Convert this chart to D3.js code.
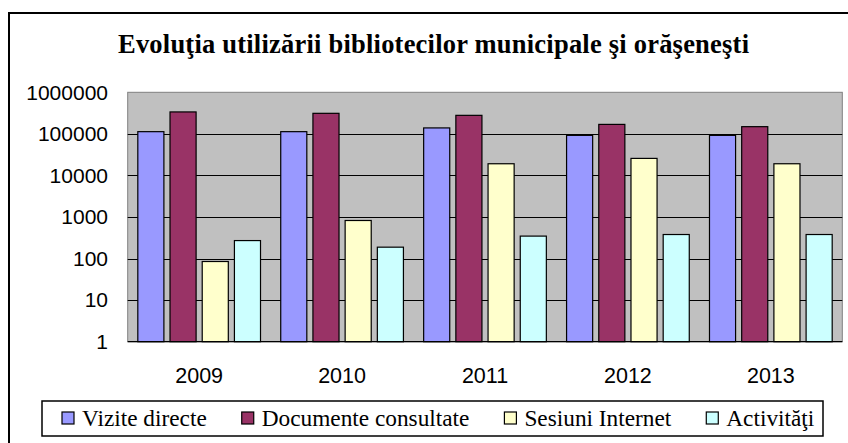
<!DOCTYPE html>
<html>
<head>
<meta charset="utf-8">
<script src="https://cdn.jsdelivr.net/npm/d3@7"></script>
<style>
  html, body { margin: 0; padding: 0; background: #fff; }
  svg { display: block; }
</style>
</head>
<body>
<svg id="chart" width="848" height="443"></svg>
<script>
const title = "Evoluţia utilizării bibliotecilor municipale şi orăşeneşti";
const years = ["2009", "2010", "2011", "2012", "2013"];
const seriesNames = ["Vizite directe", "Documente consultate", "Sesiuni Internet", "Activităţi"];
const seriesColors = ["#9999FF", "#993366", "#FFFFCC", "#CCFFFF"];
const viziteDirecte = [113000, 113000, 139000, 92000, 92000];
const documenteConsultate = [337000, 312000, 279000, 169000, 149000];
const sesiuniInternet = [85, 824, 19100, 25700, 19100];
const activitati = [271, 188, 347, 379, 379];
const yTicks = [1, 10, 100, 1000, 10000, 100000, 1000000];

const seriesValues = [viziteDirecte, documenteConsultate, sesiuniInternet, activitati];

const SERIF = "'Liberation Serif', 'Times New Roman', serif";
const SANS = "'Liberation Sans', Arial, sans-serif";

const svg = d3.select("#chart");

// outer chart frame (cropped at right/bottom in reference)
svg.append("rect")
  .attr("x", 9).attr("y", 13)
  .attr("width", 860).attr("height", 460)
  .attr("fill", "#fff").attr("stroke", "#000").attr("stroke-width", 2);

// title
svg.append("text")
  .attr("x", 433.5).attr("y", 53)
  .attr("text-anchor", "middle")
  .style("font-family", SERIF)
  .style("font-weight", "bold")
  .style("font-size", "26.5px")
  .attr("textLength", 631)
  .attr("lengthAdjust", "spacing")
  .text(title);

const plot = { left: 127.7, right: 842.3, top: 92.3, bottom: 341.7 };

const y = d3.scaleLog().domain([1, 1000000]).range([plot.bottom, plot.top]);
const x0 = d3.scaleBand().domain(years).range([plot.left, plot.right]).paddingInner(0).paddingOuter(0);
const x1 = d3.scaleBand().domain(d3.range(seriesNames.length)).range([0, x0.bandwidth()])
  .paddingInner(0.19).paddingOuter(0.314);

// plot area background
svg.append("rect")
  .attr("x", plot.left).attr("y", plot.top)
  .attr("width", plot.right - plot.left).attr("height", plot.bottom - plot.top)
  .attr("fill", "#C0C0C0").attr("stroke", "#808080").attr("stroke-width", 1);

// gridlines
svg.append("g").selectAll("line")
  .data(yTicks.filter(t => t > 1 && t < 1000000))
  .join("line")
  .attr("x1", plot.left).attr("x2", plot.right)
  .attr("y1", d => Math.round(y(d)) + 0.5).attr("y2", d => Math.round(y(d)) + 0.5)
  .attr("stroke", "#000").attr("stroke-width", 1);

// bars
const groups = svg.append("g").selectAll("g")
  .data(years)
  .join("g")
  .attr("transform", d => `translate(${x0(d)},0)`);

groups.selectAll("rect")
  .data((d, i) => seriesValues.map((s, k) => ({ k, v: s[i] })))
  .join("rect")
  .attr("x", d => x1(d.k))
  .attr("y", d => y(d.v))
  .attr("width", x1.bandwidth())
  .attr("height", d => plot.bottom - y(d.v))
  .attr("fill", d => seriesColors[d.k])
  .attr("stroke", "#000").attr("stroke-width", 1.2);

// bottom axis line
svg.append("line")
  .attr("x1", plot.left).attr("x2", plot.right)
  .attr("y1", plot.bottom).attr("y2", plot.bottom)
  .attr("stroke", "#000").attr("stroke-width", 1.2);

// y axis labels
const yAxis = d3.axisLeft(y).tickValues(yTicks).tickFormat(d3.format("d")).tickSize(0).tickPadding(0);
const yg = svg.append("g").attr("transform", "translate(108,0)").call(yAxis);
yg.select(".domain").remove();
yg.selectAll("text")
  .style("font-family", SANS)
  .style("font-size", "21px")
  .attr("fill", "#000");

// x axis labels
const xAxis = d3.axisBottom(x0).tickSize(0).tickPadding(0);
const xg = svg.append("g").attr("transform", `translate(0,${plot.bottom})`).call(xAxis);
xg.select(".domain").remove();
xg.selectAll("text")
  .attr("dy", null)
  .attr("y", 41.6)
  .style("font-family", SANS)
  .style("font-size", "21.5px")
  .attr("fill", "#000");

// legend
svg.append("rect")
  .attr("x", 42).attr("y", 401)
  .attr("width", 781).attr("height", 35)
  .attr("fill", "#fff").attr("stroke", "#000").attr("stroke-width", 1.5);

let lx = 62;
seriesNames.forEach((name, k) => {
  svg.append("rect")
    .attr("x", lx).attr("y", 412)
    .attr("width", 12).attr("height", 12)
    .attr("fill", seriesColors[k]).attr("stroke", "#000").attr("stroke-width", 1.2);
  const t = svg.append("text")
    .attr("x", lx + 20).attr("y", 425.5)
    .style("font-family", SERIF)
    .style("font-size", "23.3px")
    .attr("fill", "#000")
    .text(name);
  lx = lx + 20 + t.node().getComputedTextLength() + 35;
});
</script>
</body>
</html>
